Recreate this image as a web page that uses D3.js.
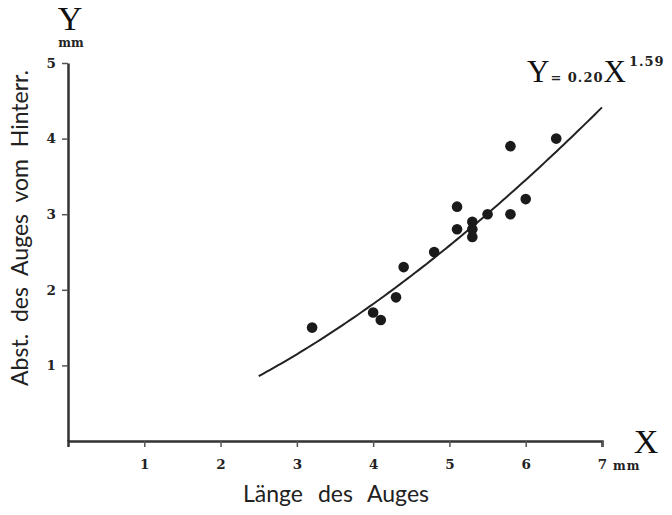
<!DOCTYPE html>
<html>
<head>
<meta charset="utf-8">
<script src="https://cdn.jsdelivr.net/npm/d3@7"></script>
<style>
  body { margin: 0; background: #fff; }
  .title { font-family: Lato, "DejaVu Sans", sans-serif; font-size: 23px; fill: #222; }
  .big { font-family: "Liberation Serif", serif; font-size: 34px; fill: #111; }
  .unit { font-family: "DejaVu Serif", serif; font-weight: bold; font-size: 12px; fill: #222; }
</style>
</head>
<body>
<svg id="chart" width="672" height="515"></svg>
<script>
// measured eyes: length (X) vs distance from hind edge (Y), in mm
const lengthX = [3.2, 4.0, 4.1, 4.3, 4.4, 4.8, 5.1, 5.1, 5.3, 5.3, 5.3, 5.5, 5.8, 5.8, 6.0, 6.4]
const distY   = [1.5, 1.7, 1.6, 1.9, 2.3, 2.5, 3.1, 2.8, 2.9, 2.8, 2.7, 3.0, 3.9, 3.0, 3.2, 4.0]
const xTicks = [1, 2, 3, 4, 5, 6, 7]
const yTicks = [1, 2, 3, 4, 5]
// fitted power curve Y = a * X^b, drawn from X = 2.5 to 7
const fitA = 0.20, fitB = 1.59
const fitRange = [2.5, 7]

var svg = d3.select("#chart")

var x = d3.scaleLinear().domain([0, 7]).range([68, 602])
var y = d3.scaleLinear().domain([0, 5]).range([441, 63])

const styleAxis = g => {
  g.select(".domain").attr("stroke", "#333").attr("stroke-width", 2.5)
  g.selectAll(".tick line").attr("stroke", "#555").attr("stroke-width", 1.5)
  g.selectAll(".tick text")
    .attr("font-family", "'DejaVu Serif', serif")
    .attr("font-weight", "bold")
    .attr("font-size", 13.5)
    .attr("fill", "#222")
}

// axes
svg.append("g")
    .attr("transform", "translate(0," + y(0) + ")")
    .call(d3.axisBottom(x).tickValues(xTicks).tickFormat(d3.format("d"))
      .tickSizeInner(6).tickSizeOuter(6).tickPadding(12))
    .call(styleAxis)

svg.append("g")
    .attr("transform", "translate(" + x(0) + ",0)")
    .call(d3.axisLeft(y).tickValues(yTicks).tickFormat(d3.format("d"))
      .tickSizeInner(6).tickSizeOuter(0).tickPadding(6))
    .call(styleAxis)

// fitted curve
var curvePts = d3.range(fitRange[0], fitRange[1] + 0.001, 0.05).map(v => [v, fitA * Math.pow(v, fitB)])
svg.append("path")
    .datum(curvePts)
    .attr("fill", "none")
    .attr("stroke", "#222")
    .attr("stroke-width", 2)
    .attr("d", d3.line().x(d => x(d[0])).y(d => y(d[1])))

// points
svg.append("g").selectAll("circle")
  .data(lengthX.map((v, i) => [v, distY[i]]))
  .enter().append("circle")
    .attr("cx", d => x(d[0]))
    .attr("cy", d => y(d[1]))
    .attr("r", 5.3)
    .attr("fill", "#1a1a1a")

// axis letters and units
svg.append("text").attr("class", "big").attr("x", 70).attr("y", 30).attr("text-anchor", "middle").text("Y")
svg.append("text").attr("class", "unit").attr("x", 71).attr("y", 47).attr("text-anchor", "middle").text("mm")
svg.append("text").attr("class", "big").attr("x", 646).attr("y", 453).attr("text-anchor", "middle").text("X")
svg.append("text").attr("class", "unit").attr("x", 613).attr("y", 470).style("letter-spacing", "1px").text("mm")

// titles
svg.append("text").attr("class", "title")
    .attr("transform", "translate(28,228) rotate(-90)")
    .attr("text-anchor", "middle")
    .style("word-spacing", "6px")
    .text("Abst. des Auges vom Hinterr.")
svg.append("text").attr("class", "title")
    .attr("x", 336).attr("y", 502)
    .attr("text-anchor", "middle")
    .style("word-spacing", "9px")
    .text("Länge des Auges")

// equation
var eq = svg.append("text").attr("x", 527).attr("y", 82)
eq.append("tspan").attr("class", "big").style("font-size", "31px").text("Y")
eq.append("tspan").attr("class", "unit").style("font-size", "13px").style("letter-spacing", "1px").attr("dx", 1).text("= 0.20")
eq.append("tspan").attr("class", "big").style("font-size", "31px").attr("dx", 0).text("X")
eq.append("tspan").attr("class", "unit").style("font-size", "13px").style("letter-spacing", "1px").attr("dx", 3).attr("dy", -16).text("1.59")
</script>
</body>
</html>
